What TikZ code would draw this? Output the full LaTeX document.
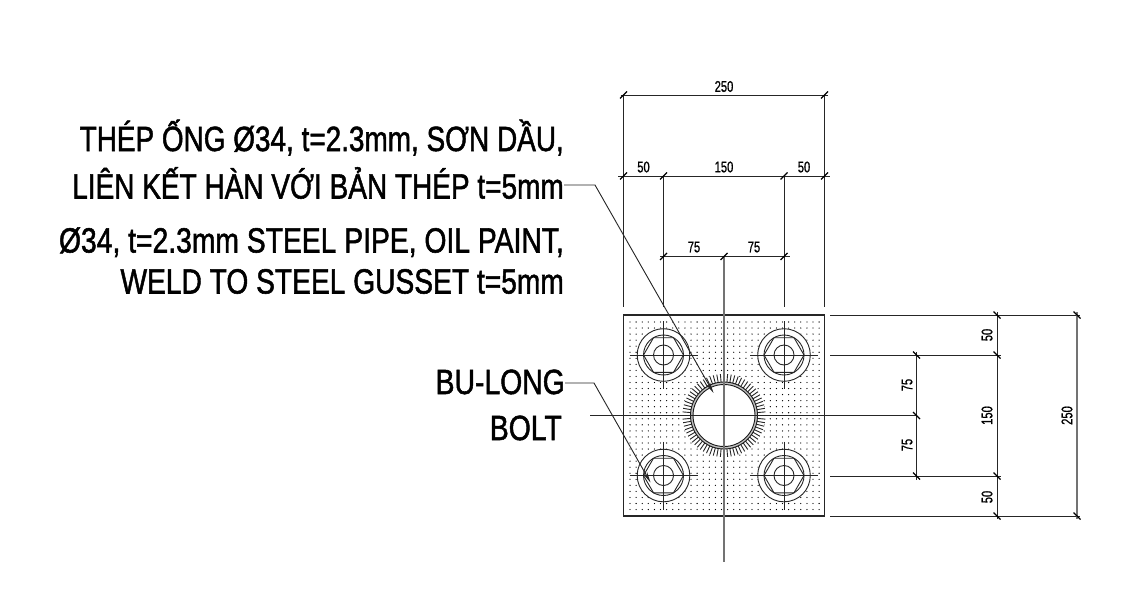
\documentclass[tikz,border=0pt]{standalone}
\usepackage{fontspec}
\setmainfont{Liberation Sans}
\newfontfamily\heavyfont[FakeBold=1.6]{Liberation Sans}
\newfontfamily\dimfont[FakeBold=1.0]{Liberation Sans}
\usetikzlibrary{arrows.meta,calc}
\newcommand{\LabelText}[2][0.81]{\heavyfont\fontsize{35}{35}\selectfont\scalebox{#1}[1]{#2}}
\newcommand{\DimText}[1]{\dimfont\fontsize{15.5}{15.5}\selectfont\scalebox{0.72}[1]{#1}}
\newcommand{\TickH}[1]{\draw[ticksty] ($(#1)+(-3.5,3.5)$) -- ($(#1)+(3.5,-3.5)$);}
\newcommand{\TickV}[1]{\draw[ticksty] ($(#1)+(-3.5,-3.5)$) -- ($(#1)+(3.5,3.5)$);}
\tikzset{
  x=1pt,y=-1pt,
  plate/.style={draw=black!85,line width=1.3pt},
  thin line/.style={draw=black!85,line width=1pt},
  axis/.style={draw=black!55,line width=1.5pt},
  ticksty/.style={draw=black,line width=1.3pt},
  lead/.style={draw=black!85,line width=.9pt,-{Stealth[length=11pt,width=4.5pt]}},
  labeltext/.style={anchor=base east,inner sep=0pt,text=black},
  dimtext/.style={inner sep=0pt,text=black},
  boltline/.style={draw=black!85,line width=.9pt},
}
\begin{document}
\begin{tikzpicture}
\useasboundingbox[fill=white] (0,0) rectangle (1131,613);
% plate
\coordinate (PA) at (623.5,315);
\coordinate (PB) at (824.5,516);
\coordinate (C) at (724,415.5);
\draw[plate] (PA) rectangle (PB);
\foreach \i in {0,...,31}{\foreach \j in {0,...,31}{
  \fill[black] ({630+\i*6.1},{322+\j*6.05}) circle (.65);
}}
% bolts
\foreach \n/\bx/\by in {a/663.5/355,b/784/355,c/663.5/475.5,d/784/475.5}{
  \coordinate (B\n) at (\bx,\by);
  \draw[boltline,fill=white] (B\n) circle (26.3);
  \draw[boltline] (B\n) circle (20);
  \draw[boltline] ($(B\n)+(-20,0)$) -- ($(B\n)+(-10,-17.3)$) -- ($(B\n)+(10,-17.3)$) -- ($(B\n)+(20,0)$) -- ($(B\n)+(10,17.3)$) -- ($(B\n)+(-10,17.3)$) -- cycle;
  \draw[boltline] (B\n) circle (10);
  \draw[boltline] ($(B\n)+(-34,0)$) -- ($(B\n)+(34,0)$);
  \draw[boltline] ($(B\n)+(0,-34)$) -- ($(B\n)+(0,34)$);
}
% pipe
\fill[white] (C) circle (41.5);
\foreach \a in {0,5,...,355}{
  \draw[black!85,line width=.9pt] ($(C)+(\a:33)$) -- ($(C)+(\a:41.5)$);
}
\draw[draw=black!90,fill=black!25,line width=.9pt] (C) circle (33.5);
\draw[draw=black!90,fill=white,line width=.9pt] (C) circle (31);
% axes
\coordinate (VT) at (724,256);
\coordinate (VB) at (724,562);
\coordinate (HL) at (590,415.5);
\coordinate (HR) at (917,415.5);
\draw[axis] (VT) -- (VB);
\draw[thin line] (HL) -- (HR);
% top extension lines
\coordinate (T1a) at (623.5,95); \coordinate (T1b) at (623.5,307);
\coordinate (T2a) at (824.5,95); \coordinate (T2b) at (824.5,307);
\coordinate (T3a) at (663.5,176); \coordinate (T3b) at (663.5,307);
\coordinate (T4a) at (784,176); \coordinate (T4b) at (784,307);
\foreach \k in {1,2,3,4}{\draw[thin line] (T\k a) -- (T\k b);}
% top dimension lines
\coordinate (D1L) at (620.5,95); \coordinate (D1R) at (827.5,95);
\coordinate (D2L) at (618,176); \coordinate (D2R) at (830,176);
\coordinate (D3L) at (660,256.5); \coordinate (D3R) at (790,256.5);
\draw[thin line] (D1L) -- (D1R);
\draw[thin line] (D2L) -- (D2R);
\draw[thin line] (D3L) -- (D3R);
\foreach \p in {T1a,T2a,T3a,T4a}{\TickH{\p}}
\TickH{623.5,176}\TickH{824.5,176}
\TickH{663.5,256.5}\TickH{724,256.5}\TickH{784,256.5}
\node[dimtext] (t250) at (724,86.5) {\DimText{250}};
\node[dimtext] (t50a) at (643.5,167) {\DimText{50}};
\node[dimtext] (t150) at (724,167) {\DimText{150}};
\node[dimtext] (t50b) at (804,167) {\DimText{50}};
\node[dimtext] (t75a) at (694,247) {\DimText{75}};
\node[dimtext] (t75b) at (754,247) {\DimText{75}};
% right extension lines
\coordinate (R1a) at (830,315); \coordinate (R1b) at (1080,315);
\coordinate (R2a) at (830,355); \coordinate (R2b) at (1001,355);
\coordinate (R3a) at (830,476); \coordinate (R3b) at (1001,476);
\coordinate (R4a) at (830,516); \coordinate (R4b) at (1080,516);
\foreach \k in {1,2,3,4}{\draw[thin line] (R\k a) -- (R\k b);}
% right dimension lines
\coordinate (V1T) at (916.5,352); \coordinate (V1B) at (916.5,480);
\coordinate (V2T) at (997,312); \coordinate (V2B) at (997,519);
\coordinate (V3T) at (1077,312); \coordinate (V3B) at (1077,519);
\draw[thin line] (V1T) -- (V1B);
\draw[thin line] (V2T) -- (V2B);
\draw[draw=black!55,line width=1.1pt] (V3T) -- (V3B);
\TickV{916.5,355}\TickV{916.5,415.5}\TickV{916.5,476}
\TickV{997,315}\TickV{997,355}\TickV{997,476}\TickV{997,516}
\TickV{1077,315}\TickV{1077,516}
\node[dimtext,rotate=90] (r50a) at (987,335) {\DimText{50}};
\node[dimtext,rotate=90] (r75a) at (907,385) {\DimText{75}};
\node[dimtext,rotate=90] (r75b) at (907,445) {\DimText{75}};
\node[dimtext,rotate=90] (r150) at (987,415.5) {\DimText{150}};
\node[dimtext,rotate=90] (r50b) at (987,497) {\DimText{50}};
\node[dimtext,rotate=90] (r250) at (1067,415.5) {\DimText{250}};
% labels
\node[labeltext] (L1) at (564,151) {\LabelText[0.798]{THÉP ỐNG Ø34, t=2.3mm, SƠN DẦU,}};
\node[labeltext] (L2) at (564,198.5) {\LabelText[0.80]{LIÊN KẾT HÀN VỚI BẢN THÉP t=5mm}};
\node[labeltext] (L3) at (564,252.5) {\LabelText[0.808]{Ø34, t=2.3mm STEEL PIPE, OIL PAINT,}};
\node[labeltext] (L4) at (564,293.5) {\LabelText[0.805]{WELD TO STEEL GUSSET t=5mm}};
\node[labeltext] (L5) at (565,394) {\LabelText{BU-LONG}};
\node[labeltext] (L6) at (562,440) {\LabelText{BOLT}};
% leaders
\coordinate (K1) at (595,185);
\coordinate (E1) at (713.5,393);
\coordinate (K2) at (594,383);
\coordinate (E2) at (650.5,482.5);
\draw[lead] (L2.east |- K1) -- (K1) -- (E1);
\draw[lead] (L5.east |- K2) -- (K2) -- (E2);
\end{tikzpicture}
\end{document}
